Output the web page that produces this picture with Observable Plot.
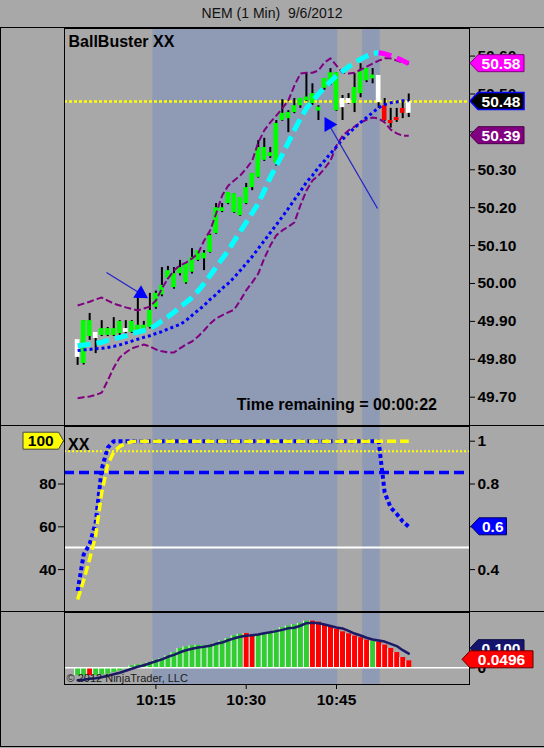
<!DOCTYPE html>
<html><head><meta charset="utf-8">
<script src="https://cdn.jsdelivr.net/npm/d3@7"></script>
<script src="https://cdn.jsdelivr.net/npm/@observablehq/plot@0.6"></script>
<style>
html,body{margin:0;padding:0;background:#a8a8a8;overflow:hidden;}
#chart{position:relative;width:544px;height:748px;background:#a8a8a8;font-family:'Liberation Sans',Arial,sans-serif;}
.abs{position:absolute;}
.hl{position:absolute;left:0;width:544px;height:1px;background:#000;}
</style></head><body>
<div id="chart">
  <div class="abs" style="left:0;width:544px;top:5px;line-height:16px;text-align:center;font-size:14px;color:#111">NEM (1 Min)&nbsp; 9/6/2012</div>
  <div id="p1" class="abs" style="left:0;top:28px"></div>
  <div id="p2" class="abs" style="left:0;top:426px"></div>
  <div id="p3" class="abs" style="left:0;top:612px"></div>
  <div class="hl" style="top:27px"></div>
  <div class="hl" style="top:425px"></div>
  <div class="hl" style="top:611px"></div>
  <div class="hl" style="top:746px"></div>
  <div class="abs" style="left:0;top:27px;width:1px;height:720px;background:#000"></div>
</div>
<script>
// ---------- data (minutes after 10:00) ----------
const minutes = [2,3,4,5,6,7,8,9,10,11, 12,13,14,15,16,17,18,19,20,21, 22,23,24,25,26,27,28,29,30,31,
  32,33,34,35,36,37,38,39,40,41, 42,43,44,45,46,47,48,49,50,51, 52,53,54,55,56,57];
const barHigh = [49.852,49.902,49.921,49.871,49.902,49.884,49.910,49.902,49.902,49.902,
  49.963,49.900,49.974,49.980,50.042,50.045,50.042,50.061,50.055,50.092,
  50.087,50.087,50.130,50.211,50.211,50.240,50.237,50.227,50.264,50.290,
  50.377,50.383,50.359,50.430,50.485,50.456,50.488,50.488,50.556,50.527,
  50.469,50.541,50.567,50.556,50.496,50.501,50.554,50.580,50.567,50.567,
  50.549,50.488,50.462,50.462,50.482,50.500];
const bodyTop = [49.852,49.902,49.902,49.871,49.881,49.881,49.881,49.900,49.881,49.900,
  49.890,49.890,49.929,49.974,49.995,50.034,50.026,50.042,50.053,50.069,
  50.087,50.080,50.127,50.200,50.200,50.240,50.237,50.227,50.253,50.290,
  50.359,50.359,50.345,50.422,50.449,50.451,50.469,50.488,50.492,50.501,
  50.465,50.541,50.556,50.556,50.488,50.488,50.517,50.562,50.567,50.550,
  50.549,50.469,50.430,50.438,50.462,50.480];
const bodyBottom = [49.805,49.789,49.860,49.855,49.863,49.863,49.863,49.868,49.871,49.871,
  49.876,49.876,49.884,49.937,49.970,50.013,49.989,50.026,50.002,50.030,
  50.061,50.065,50.082,50.132,50.190,50.211,50.187,50.179,50.211,50.253,
  50.280,50.325,50.335,50.317,50.430,50.435,50.451,50.469,50.482,50.475,
  50.455,50.515,50.527,50.456,50.464,50.475,50.475,50.501,50.535,50.540,
  50.477,50.430,50.422,50.430,50.449,50.449];
const barLow = [49.784,49.785,49.850,49.815,49.860,49.860,49.860,49.862,49.865,49.868,
  49.874,49.874,49.880,49.932,49.965,50.010,49.985,50.020,49.998,50.025,
  50.058,50.034,50.080,50.130,50.187,50.208,50.185,50.177,50.208,50.245,
  50.278,50.322,50.330,50.310,50.428,50.398,50.448,50.462,50.480,50.470,
  50.430,50.510,50.522,50.454,50.430,50.473,50.451,50.490,50.530,50.527,
  50.462,50.428,50.410,50.425,50.435,50.438];
const barColorCode = ("wggwggggwg"+"gggggggggg"+"gggggggggg"+"gggggggggg"+"ggggwwgggg"+"wrrrrw").split("");
const fastMA = [49.836,49.838,49.840,49.842,49.845,49.850,49.854,49.858,49.862,49.868,
  49.872,49.876,49.881,49.890,49.902,49.912,49.924,49.938,49.950,49.963,
  49.980,50.000,50.021,50.043,50.065,50.087,50.112,50.137,50.161,50.186,
  50.211,50.245,50.280,50.310,50.340,50.372,50.405,50.435,50.462,50.482,
  50.500,50.517,50.533,50.548,50.560,50.572,50.583,50.592,50.600,50.607,
  50.609,50.606,50.601,50.595,50.588,50.580];
const slowMA = [49.823,49.825,49.826,49.828,49.829,49.831,49.834,49.838,49.843,49.848,
  49.853,49.858,49.862,49.868,49.873,49.880,49.886,49.892,49.902,49.916,
  49.929,49.942,49.958,49.971,49.987,50.000,50.016,50.034,50.053,50.071,
  50.092,50.113,50.134,50.155,50.176,50.198,50.221,50.243,50.267,50.285,
  50.306,50.324,50.343,50.361,50.380,50.396,50.411,50.425,50.438,50.451,
  50.464,50.472,50.477,50.479,50.482,50.482];
const upperBand = [49.942,49.947,49.952,49.958,49.963,49.955,49.947,49.942,49.937,49.933,
  49.929,49.934,49.939,49.955,49.987,50.013,50.034,50.048,50.055,50.066,
  50.079,50.113,50.140,50.184,50.232,50.258,50.272,50.285,50.303,50.324,
  50.372,50.404,50.425,50.443,50.462,50.483,50.522,50.554,50.556,50.556,
  50.562,50.583,50.594,50.575,50.556,50.554,50.556,50.564,50.572,50.580,
  50.588,50.594,50.594,50.588,50.583,50.580];
const lowerBand = [49.697,49.700,49.702,49.706,49.712,49.744,49.778,49.805,49.818,49.829,
  49.834,49.839,49.834,49.826,49.821,49.818,49.818,49.829,49.839,49.847,
  49.860,49.876,49.894,49.908,49.916,49.924,49.931,49.955,49.982,50.003,
  50.026,50.066,50.100,50.127,50.140,50.150,50.161,50.206,50.245,50.272,
  50.285,50.303,50.324,50.364,50.390,50.404,50.414,50.425,50.432,50.438,
  50.435,50.425,50.406,50.396,50.390,50.390];
const priceTicks = [49.7,49.8,49.9,50.0,50.1,50.2,50.3,50.4,50.5,50.6];
const priceTicksHiddenLabel = [50.4];

// oscillator panel (0..1)
const oscBlue = [0.30,0.47,0.52,0.62,0.87,0.97,1,1,1,1, 1,1,1,1,1,1,1,1,1,1, 1,1,1,1,1,1,1,1,1,1,
  1,1,1,1,1,1,1,1,1,1, 1,1,1,1,1,1,1,1,1,1, 1,0.76,0.69,0.66,0.625,0.60];
const oscYellow = [0.26,0.35,0.45,0.56,0.76,0.89,0.95,0.975,0.99,0.998, 1,1,1,1,1,1,1,1,1,1, 1,1,1,1,1,1,1,1,1,1,
  1,1,1,1,1,1,1,1,1,1, 1,1,1,1,1,1,1,1,1,1, 1,1,1,1,1,1];
const oscLevels = [0.953, 0.854, 0.503];
const oscRightTicks = [0.4, 0.6, 0.8, 1];
const oscRightHiddenLabel = [0.6];
const oscLeftTicks = [40, 60, 80, 100];
const oscLeftHiddenLabel = [100];

// histogram panel
const histValue = [-0.055,-0.055,-0.055,-0.055,-0.050,-0.045,-0.032,-0.022,-0.010,0.014,
  0.021,0.026,0.038,0.054,0.066,0.085,0.108,0.137,0.149,0.156,
  0.160,0.156,0.160,0.174,0.191,0.208,0.227,0.238,0.243,0.236,
  0.236,0.243,0.253,0.267,0.284,0.296,0.305,0.314,0.331,0.331,
  0.324,0.307,0.291,0.272,0.255,0.241,0.225,0.213,0.196,0.189,
  0.182,0.161,0.137,0.108,0.073,0.0496];
const histColorCode = ("ggrggggggg"+"gggggggggg"+"ggggggggrr"+"gggggggggr"+"rrrrrrrrrg"+"rrrrrr").split("");
const histSignal = [-0.089,-0.085,-0.078,-0.074,-0.067,-0.057,-0.046,-0.035,-0.021,-0.007,
  0.007,0.018,0.032,0.046,0.060,0.078,0.092,0.110,0.124,0.135,
  0.144,0.149,0.156,0.170,0.179,0.195,0.209,0.220,0.227,0.230,
  0.236,0.245,0.252,0.260,0.269,0.280,0.284,0.298,0.316,0.319,
  0.316,0.307,0.296,0.286,0.279,0.262,0.243,0.229,0.213,0.201,
  0.194,0.186,0.170,0.154,0.125,0.100];

const xTickMinutes = [15, 30, 45];
const xTickLabels = ["10:15", "10:30", "10:45"];
const shadeStart = [14.5, 49.35];
const shadeEnd = [45.2, 52.25];
const arrowTailMinute = [6.79, 51.81];
const arrowTailPrice = [50.029, 50.198];
const arrowHeadMinute = [12.49, 43.72];
const arrowHeadPrice = [49.973, 50.4195];
const arrowAngle = [121.7, -30];

// ---------- styling ----------
const FONT = "'Liberation Sans', Arial, sans-serif";
const SHADE = "#8f9ab4";
const xDomain = [-0.18, 67.09];
const priceDomain = [49.6227, 50.6728];
const oscDomain = [0.1995, 1.0687];
const histDomain = [-0.1184, 0.392];
const common = {width: 544, marginLeft: 64, marginRight: 75, marginTop: 0,
  style: {background: "transparent", color: "black", fontFamily: FONT, overflow: "visible"}};

const rows = minutes.map((t, i) => ({t, high: barHigh[i], top: bodyTop[i], bottom: bodyBottom[i], low: barLow[i],
  bc: barColorCode[i], fast: fastMA[i], slow: slowMA[i], up: upperBand[i], lo: lowerBand[i],
  ob: oscBlue[i], oy: oscYellow[i], hv: histValue[i], hc: histColorCode[i], hs: histSignal[i]}));
const shade = shadeStart.map((s, i) => ({x1: s, x2: shadeEnd[i]}));
const arrows = arrowTailMinute.map((m, i) => ({x1: m, y1: arrowTailPrice[i], x2: arrowHeadMinute[i], y2: arrowHeadPrice[i], a: arrowAngle[i]}));
const peak = d3.maxIndex(fastMA);
const rising = rows.filter((d, i) => i <= peak);
const falling = rows.filter((d, i) => i >= peak);
const barFill = {g: "#00ff00", w: "#ffffff", r: "#ff0000"};
const histFill = {g: "#32cd32", r: "#ff0000"};
const last = rows[rows.length - 1];
const near = (arr, d) => arr.some(v => Math.abs(v - d) < 1e-9);

function shadeMark(dom) {
  return Plot.rect(shade, {x1: "x1", x2: "x2", y1: () => dom[0], y2: () => dom[1], fill: SHADE});
}

function addTags(plot, tags) {
  const s = plot.scale("y");
  const yf = s.apply ? (v => s.apply(v)) : d3.scaleLinear(s.domain, s.range);
  const g = d3.select(plot).append("g");
  const h = 8.5;
  for (const t of tags) {
    const cy = yf(t.value) + (t.dy || 0);
    const dir = t.side === "left" ? -1 : 1;
    const inner = t.tip + dir * t.slant;
    const pts = [[t.tip, cy], [inner, cy - h], [t.far, cy - h], [t.far, cy + h], [inner, cy + h]];
    g.append("polygon").attr("points", pts.map(p => p.join(",")).join(" "))
      .attr("fill", t.fill).attr("stroke", t.stroke || "#222").attr("stroke-width", t.sw || 1);
    g.append("text").attr("x", (inner + t.far) / 2).attr("y", cy).attr("dy", "0.36em")
      .attr("text-anchor", "middle").attr("fill", t.color).attr("font-weight", "bold")
      .attr("font-size", 15.5).attr("font-family", FONT).text(t.text);
  }
}

// ---------- panel 1: price ----------
const p1 = Plot.plot({...common, height: 398, marginBottom: 0,
  x: {domain: xDomain, axis: null}, y: {domain: priceDomain, axis: null},
  marks: [
    shadeMark(priceDomain),
    Plot.ruleY([last.top], {stroke: "#ffff00", strokeWidth: 2.5, strokeDasharray: "3,2"}),
    Plot.ruleX(rows, {x: "t", y1: "low", y2: "high", stroke: "black", strokeWidth: 2}),
    Plot.rect(rows, {x1: d => d.t - 0.39, x2: d => d.t + 0.39, y1: "bottom", y2: "top", fill: d => barFill[d.bc]}),
    Plot.line(rows, {x: "t", y: "up", stroke: "#800080", strokeWidth: 2, strokeDasharray: "7,3", strokeLinecap: "butt"}),
    Plot.line(rows, {x: "t", y: "lo", stroke: "#800080", strokeWidth: 2, strokeDasharray: "7,3", strokeLinecap: "butt"}),
    Plot.line(rows, {x: "t", y: "slow", stroke: "#0000ff", strokeWidth: 3, strokeDasharray: "3,3", strokeLinecap: "butt"}),
    Plot.line(rising, {x: "t", y: "fast", stroke: "#00ffff", strokeWidth: 5, strokeDasharray: "13,6", strokeLinecap: "butt"}),
    Plot.line(falling, {x: "t", y: "fast", stroke: "#ff00ff", strokeWidth: 5, strokeDasharray: "13,6", strokeLinecap: "butt"}),
    Plot.link(arrows, {x1: "x1", y1: "y1", x2: "x2", y2: "y2", stroke: "#2525c8", strokeWidth: 1.3}),
    Plot.dot(arrows, {x: "x2", y: "y2", symbol: "triangle", r: 5.5, fill: "#0000ff", rotate: "a"}),
    Plot.text(["BallBuster XX"], {frameAnchor: "top-left", text: d => d, dx: 4, dy: 7, textAnchor: "start", lineAnchor: "top", fontSize: 16, fontWeight: "bold", fill: "black"}),
    Plot.text(["Time remaining = 00:00:22"], {frameAnchor: "bottom-right", text: d => d, dx: -32.5, dy: -28, textAnchor: "end", lineAnchor: "top", fontSize: 16, fontWeight: "bold", fill: "black"}),
    Plot.axisY({anchor: "right", ticks: priceTicks, tickFormat: d => near(priceTicksHiddenLabel, d) ? "" : d3.format(".2f")(d), tickSize: 5, tickPadding: 3, fontSize: 15.5, fontWeight: "bold", label: null}),
    Plot.frame({stroke: "black"})
  ]});
addTags(p1, [
  {value: last.lo, text: d3.format(".2f")(last.lo), fill: "#800080", color: "white", tip: 470, slant: 8, far: 524, stroke: "#4a004a"},
  {value: last.top, text: d3.format(".2f")(last.top), fill: "#000000", color: "white", tip: 470, slant: 8, far: 524, stroke: "#0000ff", sw: 1.5},
  {value: last.fast, text: d3.format(".2f")(last.fast), fill: "#ff00ff", color: "white", tip: 470, slant: 8, far: 524, stroke: "#800080"}
]);
document.getElementById("p1").appendChild(p1);

// ---------- panel 2: oscillator ----------
const p2 = Plot.plot({...common, height: 186, marginBottom: 0,
  x: {domain: xDomain, axis: null}, y: {domain: oscDomain, axis: null},
  marks: [
    shadeMark(oscDomain),
    Plot.ruleY([oscLevels[2]], {stroke: "white", strokeWidth: 2}),
    Plot.ruleY([oscLevels[1]], {stroke: "#0000ff", strokeWidth: 3.5, strokeDasharray: "10,5"}),
    Plot.ruleY([oscLevels[0]], {stroke: "#ffff00", strokeWidth: 2, strokeDasharray: "2,2"}),
    Plot.line(rows, {x: "t", y: "ob", stroke: "#0000ff", strokeWidth: 4, strokeDasharray: "4,3", strokeLinecap: "butt"}),
    Plot.line(rows, {x: "t", y: "oy", stroke: "#ffff00", strokeWidth: 3.5, strokeDasharray: "9,4", strokeLinecap: "butt"}),
    Plot.text(["XX"], {frameAnchor: "top-left", text: d => d, dx: 3.5, dy: 12.5, textAnchor: "start", lineAnchor: "top", fontSize: 16, fontWeight: "bold", fill: "black"}),
    Plot.axisY({anchor: "left", ticks: oscLeftTicks.map(v => v / 100), tickFormat: d => near(oscLeftHiddenLabel, Math.round(d * 100)) ? "" : String(Math.round(d * 100)), tickSize: 6, tickPadding: 2, fontSize: 15.5, fontWeight: "bold", label: null}),
    Plot.axisY({anchor: "right", ticks: oscRightTicks, tickFormat: d => near(oscRightHiddenLabel, d) ? "" : d3.format("~g")(d), tickSize: 5, tickPadding: 3, fontSize: 15.5, fontWeight: "bold", label: null}),
    Plot.frame({stroke: "black"})
  ]});
addTags(p2, [
  {value: last.oy, text: String(Math.round(last.oy * 100)), fill: "#ffff00", color: "black", side: "left", tip: 63.5, slant: 5, far: 23, stroke: "#444"},
  {value: last.ob, text: d3.format("~g")(last.ob), fill: "#0000ff", color: "white", tip: 471, slant: 8, far: 506.5, stroke: "#000060"}
]);
document.getElementById("p2").appendChild(p2);

// ---------- panel 3: histogram ----------
const p3 = Plot.plot({...common, height: 110, marginBottom: 38,
  x: {domain: xDomain, axis: null}, y: {domain: histDomain, axis: null},
  marks: [
    shadeMark(histDomain),
    Plot.rect(rows, {x1: d => d.t - 0.5, x2: d => d.t + 0.5, y1: 0, y2: "hv", fill: d => histFill[d.hc]}),
    Plot.ruleX(rows, {x: d => d.t - 0.5, y1: 0, y2: "hv", stroke: "white", strokeWidth: 1}),
    Plot.ruleY([0], {stroke: "white", strokeWidth: 1.5}),
    Plot.line(rows, {x: "t", y: "hs", stroke: "#1a1a66", strokeWidth: 2.5}),
    Plot.text(["© 2012 NinjaTrader, LLC"], {frameAnchor: "top-left", text: d => d, dx: 2, dy: 62, textAnchor: "start", lineAnchor: "top", fontSize: 11, fill: "#1a1a1a"}),
    Plot.axisY({anchor: "right", ticks: [0], tickFormat: () => "0", tickSize: 5, tickPadding: 3, fontSize: 15.5, fontWeight: "bold", label: null}),
    Plot.axisX({ticks: xTickMinutes, tickFormat: d => xTickLabels[xTickMinutes.indexOf(d)], tickSize: 5, tickPadding: 4, fontSize: 15.5, fontWeight: "bold", label: null}),
    Plot.frame({stroke: "black"})
  ]});
addTags(p3, [
  {value: last.hs, dy: -5, text: d3.format(".3f")(last.hs), fill: "#14146e", color: "white", tip: 470, slant: 8, far: 524, stroke: "#0a0a40"},
  {value: last.hv, dy: -1, text: d3.format(".4f")(last.hv), fill: "#ff0000", color: "white", tip: 462, slant: 8, far: 533, stroke: "#600000"}
]);
document.getElementById("p3").appendChild(p3);
</script>
</body></html>
